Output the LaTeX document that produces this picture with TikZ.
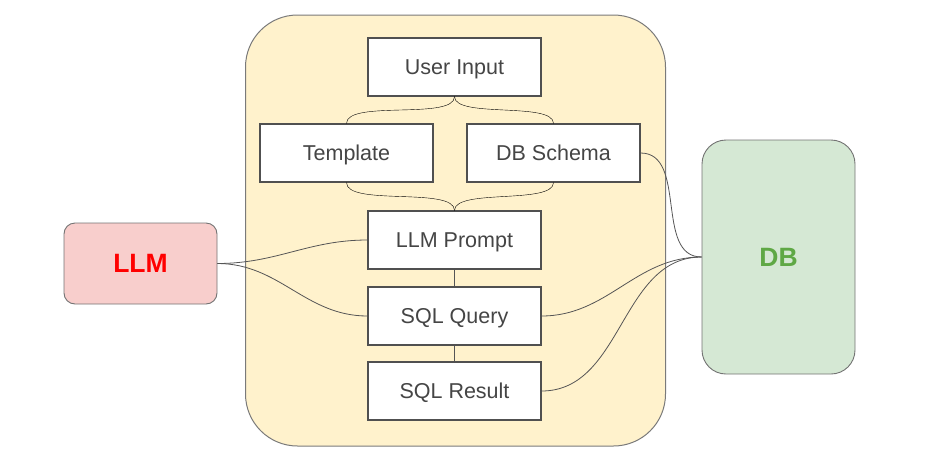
\documentclass[tikz,border=0pt]{standalone}
\usepackage{fontspec}
\setmainfont{Liberation Sans}
\definecolor{contfill}{HTML}{FFF2CC}
\definecolor{contdraw}{HTML}{7A7A7A}
\definecolor{boxdraw}{HTML}{505050}
\definecolor{txtgray}{HTML}{454545}
\definecolor{llmfill}{HTML}{F8CECC}
\definecolor{llmtxt}{HTML}{FF0000}
\definecolor{dbfill}{HTML}{D5E8D4}
\definecolor{dbtxt}{HTML}{5FA845}
\definecolor{linecol}{HTML}{555555}
\begin{document}
\begin{tikzpicture}[x=1pt,y=-1pt,
  wbox/.style={draw=boxdraw,fill=white,line width=1.1pt,minimum width=173pt,minimum height=58pt,inner sep=0pt,font=\fontsize{21.5}{25}\selectfont,text=txtgray,text height=15.4pt,text depth=0pt},
  conn/.style={draw=linecol,line width=0.8pt},
  vcurve/.style={conn,out=-90,in=90,looseness=0.55}]
\useasboundingbox (0,0) rectangle (947,464);
% container
\node[draw=contdraw,fill=contfill,line width=1pt,rounded corners=52pt,minimum width=420pt,minimum height=431pt,inner sep=0pt] (cont) at (455.5,230.5) {};
% boxes
\node[wbox] (ui) at (454.5,67) {User Input};
\node[wbox] (tpl) at (346.5,153) {Template};
\node[wbox] (sch) at (553.5,153) {DB Schema};
\node[wbox] (pr) at (454.5,240) {LLM Prompt};
\node[wbox] (q) at (454.5,316) {SQL Query};
\node[wbox] (r) at (454.5,391) {SQL Result};
% LLM and DB
\node[draw=boxdraw!80,fill=llmfill,line width=0.9pt,rounded corners=11pt,minimum width=153pt,minimum height=81pt,inner sep=0pt,font=\fontsize{26.5}{30}\selectfont\bfseries,text=llmtxt] (llm) at (140.5,263.5) {LLM};
\node[draw=boxdraw!80,fill=dbfill,line width=0.9pt,rounded corners=24pt,minimum width=153pt,minimum height=234pt,inner sep=0pt,font=\fontsize{26.5}{30}\selectfont\bfseries,text=dbtxt] (db) at (778.5,257) {DB};
% connectors
\draw (ui.south) to[vcurve] (tpl.north);
\draw (ui.south) to[vcurve] (sch.north);
\draw (tpl.south) to[vcurve] (pr.north);
\draw (sch.south) to[vcurve] (pr.north);
\draw[conn] (pr.south) -- (q.north);
\draw[conn] (q.south) -- (r.north);
\draw[conn] (llm.east) to[out=0,in=180] (pr.west);
\draw[conn] (llm.east) to[out=0,in=180] (q.west);
\draw[conn] (sch.east) to[out=0,in=180] (db.west);
\draw[conn] (q.east) to[out=0,in=180] (db.west);
\draw[conn] (r.east) to[out=0,in=180] (db.west);
\end{tikzpicture}
\end{document}
